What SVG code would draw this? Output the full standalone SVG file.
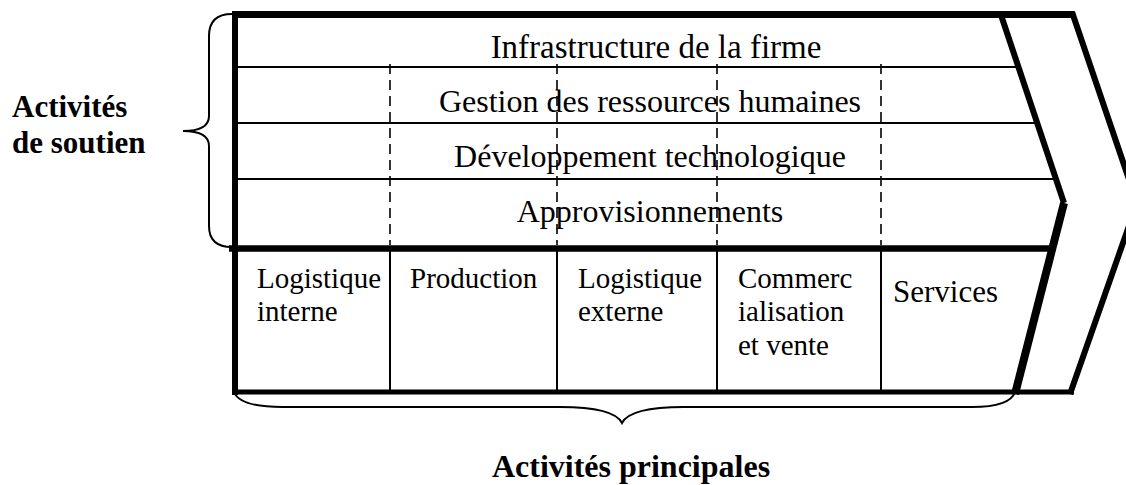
<svg xmlns="http://www.w3.org/2000/svg" width="1126" height="485" viewBox="0 0 1126 485">
  <style>
    .t{font-family:"Liberation Serif","Times New Roman",serif;fill:#000}
    .sup{font-size:32px;text-anchor:middle}
    .pri{font-size:29px}
    .lbl{font-size:31px;font-weight:bold}
    .thin{stroke:#000;stroke-width:2;fill:none}
    .dash{stroke:#000;stroke-width:1.6;stroke-dasharray:10 6;fill:none}
    .thick{stroke:#000;fill:none;stroke-linejoin:miter}
    .brace{stroke:#000;stroke-width:2;fill:none}
  </style>
  <rect width="1126" height="485" fill="#fff"/>

  <!-- grid lines between rows and columns -->
  <g id="connectors">
    <line class="thin" x1="238" y1="67" x2="1020" y2="67"/>
    <line class="thin" x1="238" y1="123" x2="1038" y2="123"/>
    <line class="thin" x1="238" y1="179" x2="1057" y2="179"/>
    <line class="dash" x1="390" y1="64" x2="390" y2="245"/>
    <line class="dash" x1="557" y1="64" x2="557" y2="245"/>
    <line class="dash" x1="717" y1="64" x2="717" y2="245"/>
    <line class="dash" x1="881" y1="64" x2="881" y2="245"/>
    <line class="thin" x1="390" y1="251" x2="390" y2="390"/>
    <line class="thin" x1="557" y1="251" x2="557" y2="390"/>
    <line class="thin" x1="717" y1="251" x2="717" y2="390"/>
    <line class="thin" x1="881" y1="251" x2="881" y2="390"/>
  </g>

  <!-- outer frame and margin chevron -->
  <g id="frame">
    <line class="thick" stroke-width="7" x1="232" y1="14.5" x2="1074" y2="14.5"/>
    <line class="thick" stroke-width="6" x1="235" y1="11" x2="235" y2="395"/>
    <line class="thick" stroke-width="6.5" x1="229" y1="248.5" x2="1052" y2="248.5"/>
    <line class="thick" stroke-width="5" x1="232" y1="392" x2="1074" y2="392"/>
    <polyline class="thick" stroke-width="6" points="1000,12 1064,203"/>
    <polyline class="thick" stroke-width="8" points="1064,203 1015,394"/>
    <polyline class="thick" stroke-width="6" points="1072,12 1137,203 1070,394"/>
  </g>

  <!-- support activities -->
  <g id="infrastructure"><text class="t sup" x="656" y="58" style="font-size:33px">Infrastructure de la firme</text></g>
  <g id="grh"><text class="t sup" x="650" y="112">Gestion des ressources humaines</text></g>
  <g id="technologie"><text class="t sup" x="650" y="167">Développement technologique</text></g>
  <g id="approvisionnements"><text class="t sup" x="650" y="222">Approvisionnements</text></g>

  <!-- primary activities -->
  <g id="logistique-interne">
    <text class="t pri" x="257" y="288">Logistique</text>
    <text class="t pri" x="257" y="321">interne</text>
  </g>
  <g id="production"><text class="t pri" x="410" y="288">Production</text></g>
  <g id="logistique-externe">
    <text class="t pri" x="578" y="288">Logistique</text>
    <text class="t pri" x="578" y="321">externe</text>
  </g>
  <g id="commercialisation">
    <text class="t pri" x="738" y="288">Commerc</text>
    <text class="t pri" x="738" y="321">ialisation</text>
    <text class="t pri" x="738" y="355">et vente</text>
  </g>
  <g id="services"><text class="t pri" x="893" y="302" style="font-size:31px">Services</text></g>

  <!-- braces and group labels -->
  <g id="soutien">
    <path class="brace" d="M232 14 Q209 14 209 36 L209 116 Q209 131 183 131 Q209 131 209 146 L209 226 Q209 247 232 247"/>
    <text class="t lbl" x="12" y="117">Activités</text>
    <text class="t lbl" x="12" y="153">de soutien</text>
  </g>
  <g id="principales">
    <path class="brace" d="M234 392 Q240 407 282 407 L560 407 Q614 407 622 423 Q630 407 684 407 L972 407 Q1010 407 1015 392"/>
    <text class="t lbl" x="631" y="477" text-anchor="middle" style="font-size:32px">Activités principales</text>
  </g>
</svg>
